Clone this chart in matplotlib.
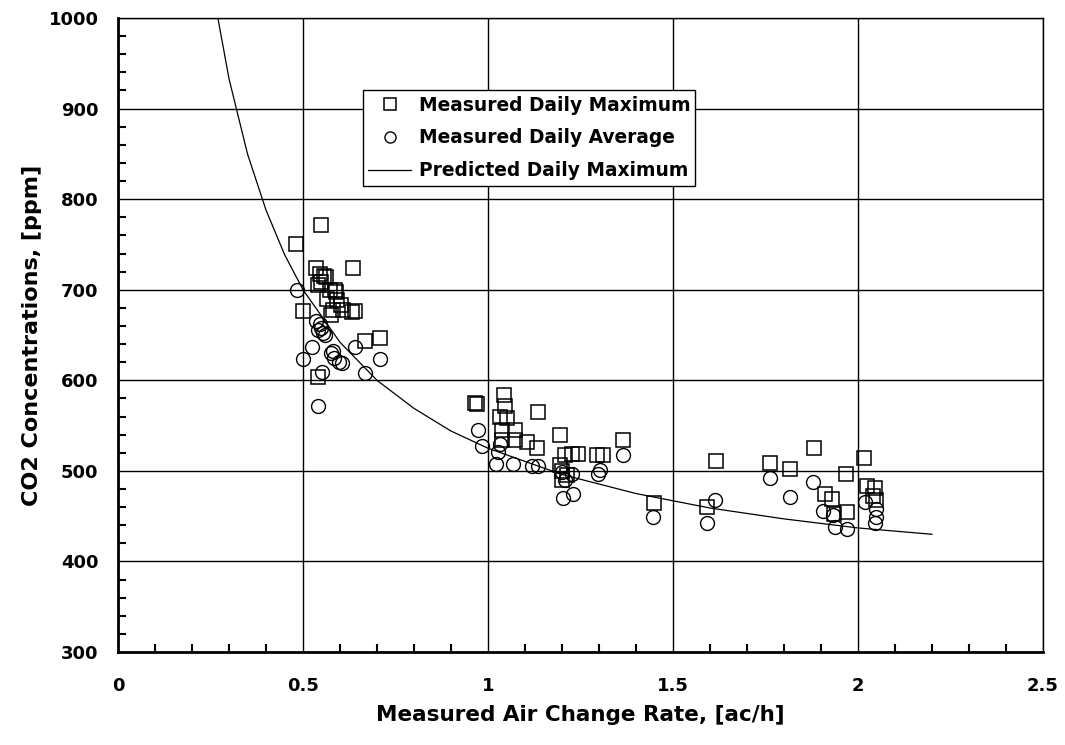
import matplotlib.pyplot as plt
from matplotlib.ticker import MultipleLocator

plt.rcParams['font.family'] = ['DejaVu Sans']
plt.rcParams['font.weight'] = 'bold'

# measured daily maximum (ach, ppm)
max_x = [0.48, 0.55, 0.50, 0.535, 0.546, 0.557, 0.562, 0.54, 0.573, 0.586, 0.592, 0.603,
         0.608, 0.635, 0.632, 0.576, 0.668, 0.708, 0.54, 0.581, 0.641, 0.59, 0.55, 0.565,
         0.965, 0.97, 1.043, 1.046, 1.032, 1.052, 1.073, 1.037, 1.105, 1.132, 1.073, 1.037,
         1.134, 1.195, 1.208, 1.226, 1.244, 1.294, 1.312, 1.364, 1.195, 1.20, 1.213, 1.20,
         1.616, 1.449, 1.593, 1.762, 1.816, 1.881, 1.968, 2.016, 1.911, 1.93, 1.971, 1.935,
         2.024, 2.046, 2.05, 2.04]
max_y = [751, 772, 676, 724, 717, 715, 714, 705, 700, 700, 689, 683,
         678, 724, 675, 672, 643, 647, 604, 678, 676, 698, 708, 690,
         575, 574, 584, 572, 560, 558, 545, 545, 532, 525, 534, 534,
         565, 540, 517, 519, 519, 517, 517, 534, 506, 500, 495, 490,
         511, 465, 460, 509, 502, 525, 497, 514, 475, 469, 455, 452,
         483, 481, 468, 472]

# measured daily average (ach, ppm)
avg_x = [0.483, 0.54, 0.501, 0.523, 0.551, 0.541, 0.555, 0.545, 0.56, 0.535, 0.55,
         0.582, 0.596, 0.605, 0.641, 0.708, 0.668, 0.585, 0.575,
         0.974, 0.983, 1.023, 1.028, 1.032, 1.068, 1.118, 1.136, 1.199, 1.208, 1.204,
         1.231, 1.226, 1.303, 1.366, 1.298, 1.447, 1.591, 1.614,
         1.762, 1.816, 1.879, 1.906, 1.933, 1.938, 1.971, 2.019, 2.05, 2.046, 2.05]
avg_y = [700, 572, 624, 637, 609, 656, 652, 662, 650, 665, 658,
         632, 620, 619, 637, 624, 608, 625, 630,
         545, 527, 508, 521, 530, 508, 505, 505, 499, 490, 470,
         475, 497, 501, 518, 497, 449, 442, 468,
         492, 471, 488, 456, 451, 438, 436, 466, 449, 443, 458]

# predicted daily maximum curve
pred_x = [0.27, 0.30, 0.35, 0.40, 0.45, 0.50, 0.60, 0.70, 0.80, 0.90, 1.00, 1.20, 1.40,
          1.60, 1.80, 2.00, 2.20]
pred_y = [1000, 933, 850, 788, 739, 700, 642, 600, 569, 544, 525, 496, 475,
          459, 447, 437, 430]

fig = plt.figure(figsize=(10.65, 7.45), dpi=100)
ax = fig.add_axes([0.1108, 0.1248, 0.8685, 0.851])

ax.plot(max_x, max_y, 's', markersize=10, markerfacecolor='none', markeredgecolor='black',
        markeredgewidth=1.1, label='Measured Daily Maximum')
ax.plot(avg_x, avg_y, 'o', markersize=10, markerfacecolor='none', markeredgecolor='black',
        markeredgewidth=1.0, label='Measured Daily Average')
ax.plot(pred_x, pred_y, '-', color='black', linewidth=0.9, label='Predicted Daily Maximum')

ax.set_xlim(0, 2.5)
ax.set_ylim(300, 1000)
ax.xaxis.set_major_locator(MultipleLocator(0.5))
ax.xaxis.set_minor_locator(MultipleLocator(0.1))
ax.yaxis.set_major_locator(MultipleLocator(100))
ax.yaxis.set_minor_locator(MultipleLocator(20))
ax.set_xticks([0, 0.5, 1, 1.5, 2, 2.5])
ax.set_xticklabels(['0', '0.5', '1', '1.5', '2', '2.5'])
ax.tick_params(which='both', direction='in', top=False, right=False, width=1.5)
ax.tick_params(which='major', length=0, labelsize=13, pad=18)
ax.tick_params(axis='y', which='major', pad=14)
ax.tick_params(which='minor', length=6)
ax.grid(True, which='major', color='black', linewidth=1.0)
for s in ['left', 'bottom']:
    ax.spines[s].set_linewidth(2.0)
for s in ['top', 'right']:
    ax.spines[s].set_linewidth(1.0)

ax.set_xlabel('Measured Air Change Rate, [ac/h]', fontsize=15.5, fontweight='bold', labelpad=7)
ax.set_ylabel('CO2 Concentrations, [ppm]', fontsize=16, fontweight='bold', labelpad=5)

leg = ax.legend(loc='upper left', bbox_to_anchor=(0.265, 0.886), fontsize=13.4,
                frameon=True, fancybox=False, edgecolor='black', framealpha=1,
                borderpad=0.28, handlelength=2.3, handletextpad=0.4, labelspacing=0.75,
                markerscale=0.8, borderaxespad=0)
leg.get_frame().set_linewidth(1.0)

fig.savefig('out.png', dpi=100)
